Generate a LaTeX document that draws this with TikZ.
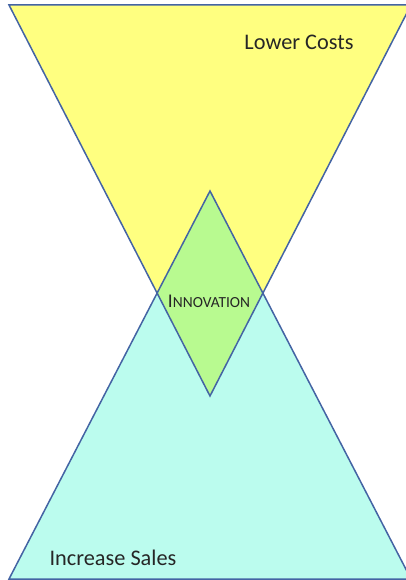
\documentclass[tikz,border=0pt]{standalone}
\usepackage{fontspec}
\setmainfont{Carlito}
\definecolor{yel}{HTML}{FFFF80}
\definecolor{cya}{HTML}{BBFCEE}
\definecolor{grn}{HTML}{B8FA90}
\definecolor{edge}{HTML}{4464A4}
\begin{document}
\begin{tikzpicture}[x=1pt,y=-1pt,
  outline/.style={draw=edge,line width=1.5pt,line join=miter},
  lbl/.style={text=black!85,inner sep=0pt}]
\useasboundingbox (0,0) rectangle (406,580);
\begin{scope}
\clip (0,0) rectangle (406,580);
% yellow inverted triangle
\coordinate (yl) at (9,5);
\coordinate (yr) at (411,5);
\coordinate (ya) at (210,396);
% cyan triangle
\coordinate (cl) at (9,579);
\coordinate (cr) at (411,579);
\coordinate (ca) at (210,191);
\fill[yel] (yl) -- (yr) -- (ya) -- cycle;
\fill[cya] (cl) -- (cr) -- (ca) -- cycle;
\begin{scope}
\clip (yl) -- (yr) -- (ya) -- cycle;
\fill[grn] (cl) -- (cr) -- (ca) -- cycle;
\end{scope}
\draw[outline] (yl) -- (yr) -- (ya) -- cycle;
\draw[outline] (cl) -- (cr) -- (ca) -- cycle;
\end{scope}
\node[lbl,font=\fontsize{22.3}{26}\selectfont] (lc) at (299,42) {Lower Costs};
\node[lbl,font=\fontsize{22.3}{26}\selectfont] (is) at (113,558) {Increase Sales};
\node[lbl] (in) at (209,301) {\fontsize{19.4}{22}\selectfont I\fontsize{15.4}{18}\selectfont NNOVATION};
\end{tikzpicture}
\end{document}
